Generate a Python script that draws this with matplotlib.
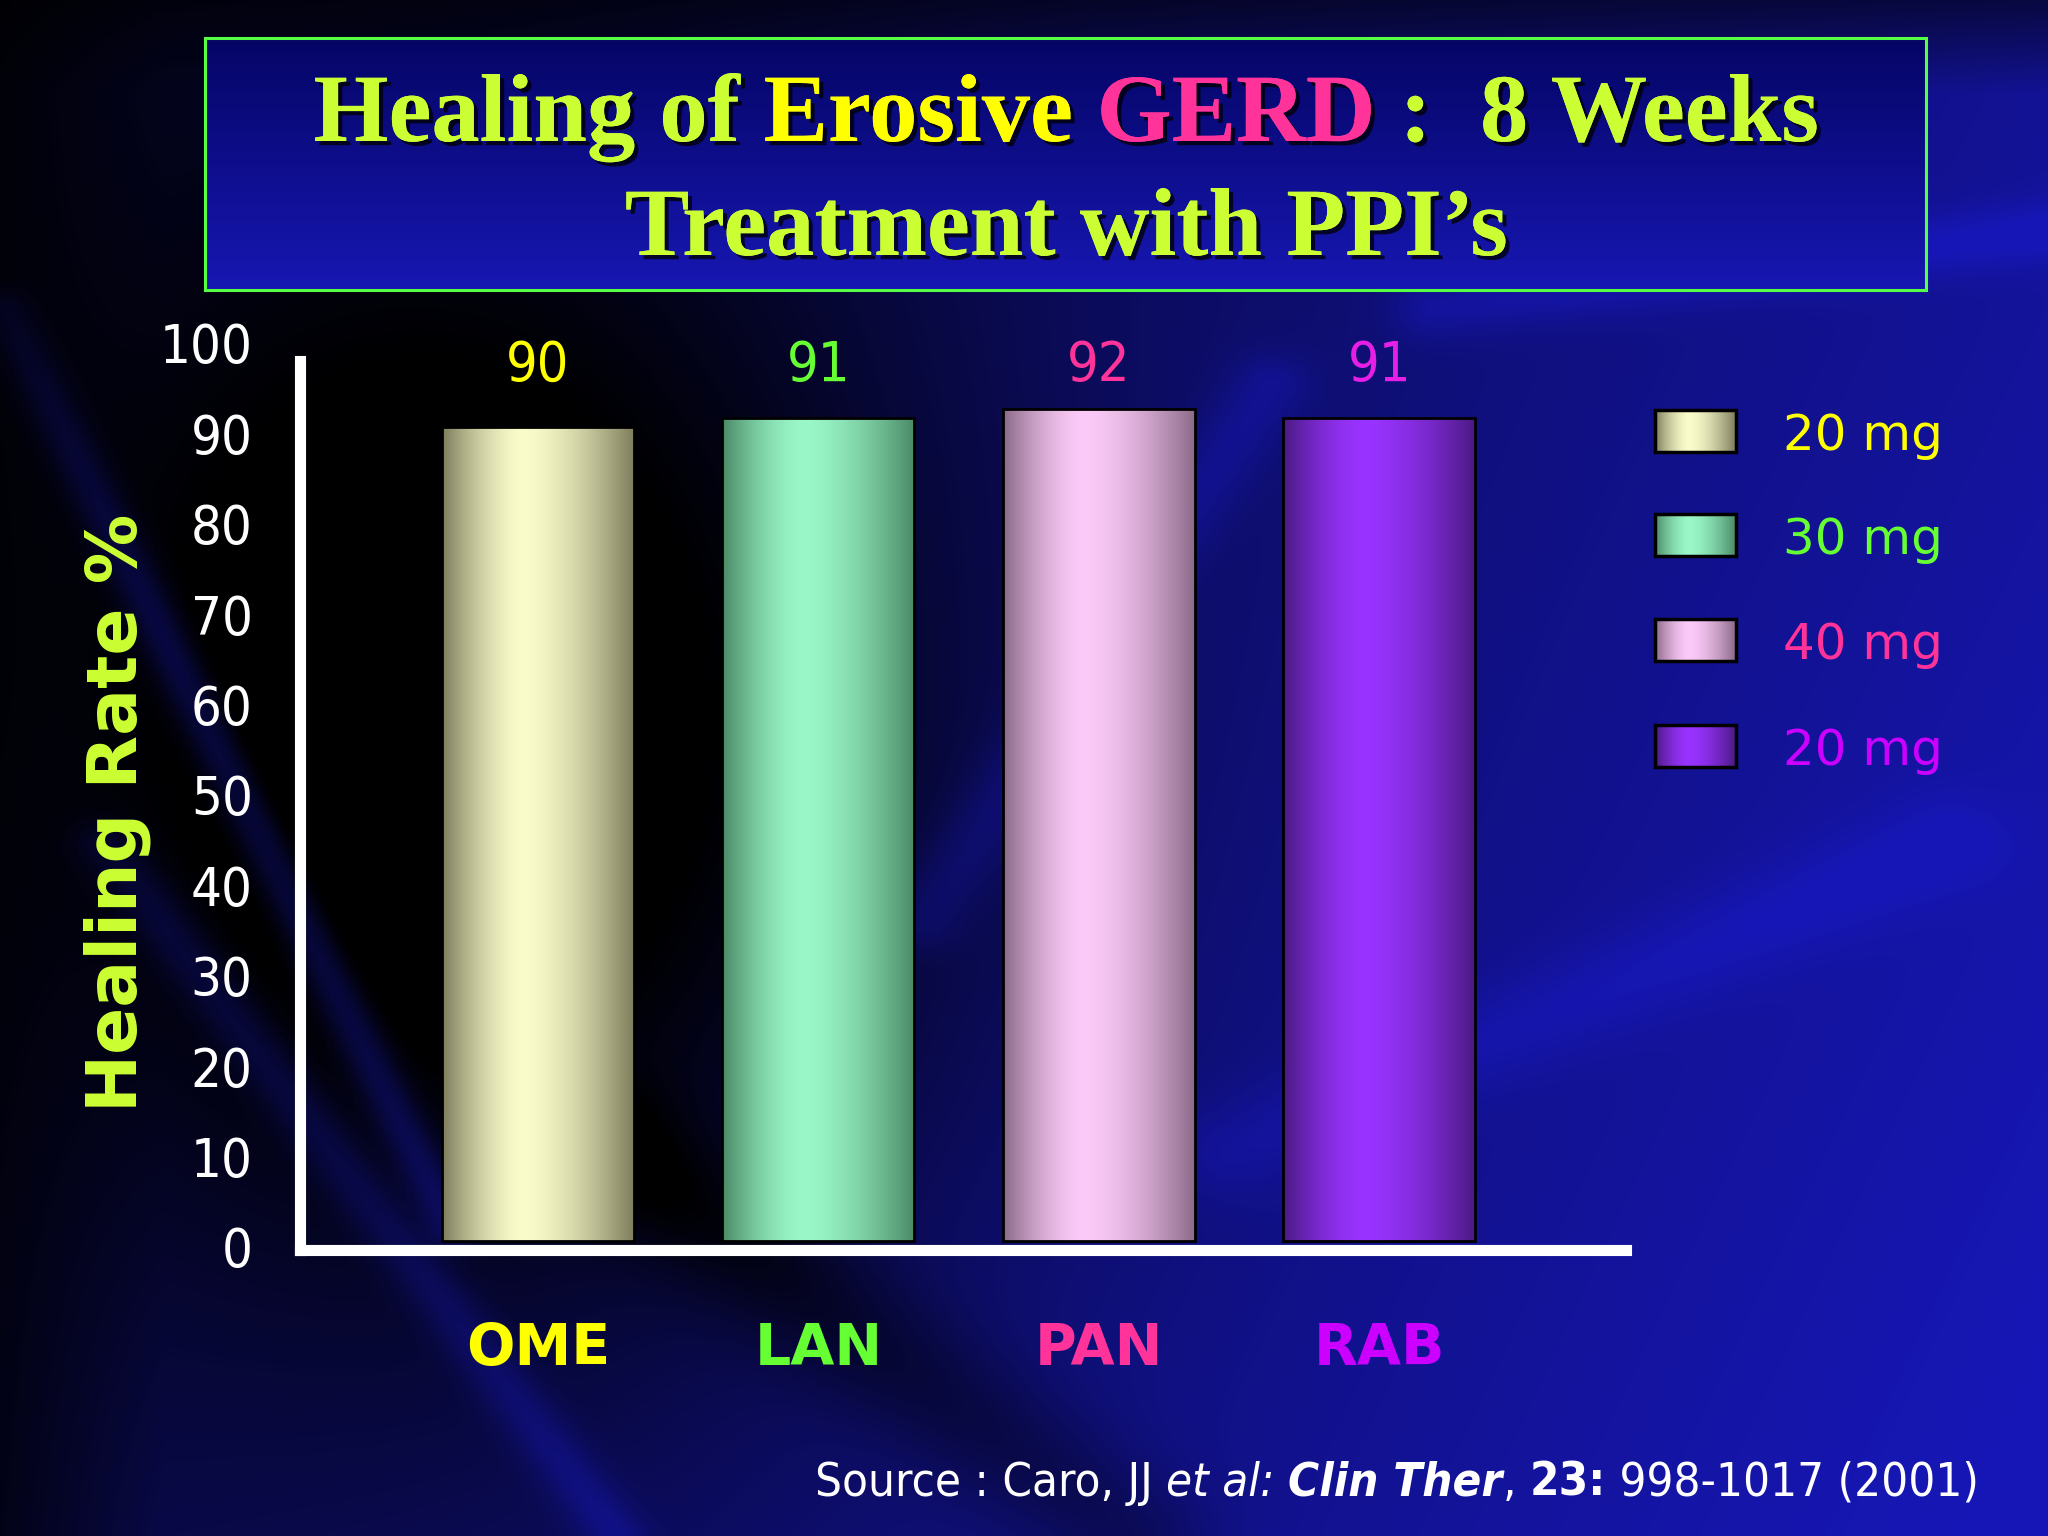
import numpy as np
import matplotlib
matplotlib.use('Agg')
import matplotlib.pyplot as plt
from matplotlib.patches import Rectangle
from matplotlib import patheffects as pe
from matplotlib.transforms import ScaledTranslation
from matplotlib.colors import to_rgb

# data
drugs = ['OME', 'LAN', 'PAN', 'RAB']
doses = ['20 mg', '30 mg', '40 mg', '20 mg']
healing = [90, 91, 92, 91]
yticks = list(range(0, 101, 10))

drug_colors = ['#ffff00', '#66ff33', '#ff3399', '#cc00ff']
value_colors = ['#ffff00', '#66ff33', '#ff3399', '#e61ee6']
bar_edge = ['#7d7c5c', '#4a8a66', '#8a6a88', '#4a1a82']
bar_light = ['#fafcca', '#9af7c8', '#fccaf8', '#9933ff']

COND = dict(family='DejaVu Sans', stretch='condensed')
W, H = 2048, 1536

fig = plt.figure(figsize=(W / 100, H / 100), dpi=100)

# background axes in pixel units
bg = fig.add_axes([0, 0, 1, 1], zorder=0)
bg.set_xlim(0, W)
bg.set_ylim(H, 0)
bg.axis('off')

yy, xx = np.mgrid[0:1:384j, 0:1:512j]
b = 0.18 + 0.62 * xx + 0.22 * yy
b -= 0.6 * np.exp(-(((xx - 0.25) / 0.22) ** 2 + ((yy - 0.5) / 0.38) ** 2))


def streak(x0, y0, x1, y1, w, a):
    dx, dy = x1 - x0, y1 - y0
    t = np.clip(((xx - x0) * dx + (yy - y0) * dy) / (dx * dx + dy * dy), 0, 1)
    d = np.hypot(xx - x0 - t * dx, yy - y0 - t * dy)
    return a * np.exp(-(d / w) ** 2)


b += streak(0.0, 0.2, 0.22, 0.8, 0.012, 0.35)
b += streak(0.05, 0.55, 0.3, 1.0, 0.015, 0.25)
b += streak(0.45, 0.6, 0.62, 0.25, 0.02, 0.2)
b += streak(0.6, 0.75, 0.95, 0.55, 0.03, 0.15)
b += streak(0.7, 0.2, 1.0, 0.15, 0.02, 0.2)
b -= streak(0.3, 0.75, 0.55, 1.0, 0.04, 0.25)
b *= 0.45 + 0.55 * np.clip(yy / 0.06, 0, 1)
b *= 0.35 + 0.65 * np.clip(xx / 0.08, 0, 1)
b = np.clip(b, 0, 1)
bg_img = np.dstack([0.09 * b, 0.09 * b, 0.72 * b])
bg.imshow(bg_img, extent=(0, W, H, 0), aspect='auto', interpolation='bicubic', zorder=0)

# title box
tb = np.linspace(0, 1, 100)[:, None]
box_img = np.dstack([0.02 + 0.07 * tb, 0.02 + 0.07 * tb, 0.40 + 0.30 * tb]) * np.ones((1, 10, 1))
bg.imshow(box_img, extent=(205, 1926, 290, 38), aspect='auto', interpolation='bicubic', zorder=1)
bg.add_patch(Rectangle((205, 38), 1721, 252, facecolor='none', edgecolor='#55ff44', linewidth=2.2, zorder=2))

renderer = fig.canvas.get_renderer()


def text_width(s, **kw):
    t = bg.text(0, 0, s + '|', **kw)
    w = t.get_window_extent(renderer).width
    t.remove()
    t = bg.text(0, 0, '|', **kw)
    w -= t.get_window_extent(renderer).width
    t.remove()
    return w


def draw_runs(runs, x, y, ha, base):
    widths = [text_width(s, **{**base, **kw}) for s, kw in runs]
    total = sum(widths)
    x0 = x - total / 2 if ha == 'center' else (x - total if ha == 'right' else x)
    for (s, kw), w in zip(runs, widths):
        bg.text(x0, y, s, ha='left', va='baseline', zorder=3, **{**base, **kw})
        x0 += w


shadow = [pe.withSimplePatchShadow(offset=(3, -3), shadow_rgbFace='black', alpha=0.75), pe.Normal()]
tbase = dict(family='Liberation Serif', fontweight='bold', fontsize=69.5, path_effects=shadow)
draw_runs([('Healing of ', dict(color='#ccff33')),
           ('Erosive ', dict(color='#ffff00')),
           ('GERD', dict(color='#ff3399')),
           (' :  8 Weeks', dict(color='#ccff33'))], 1066, 141, 'center', tbase)
draw_runs([('Treatment with PPI\u2019s', dict(color='#ccff33'))], 1066, 255, 'center', tbase)

# source line
sbase = dict(color='white', fontsize=34, **COND)
draw_runs([('Source : Caro, JJ ', {}),
           ('et al:', dict(style='italic')),
           (' ', {}),
           ('Clin Ther', dict(style='italic', fontweight='bold')),
           (', ', {}),
           ('23:', dict(fontweight='bold')),
           (' 998-1017 (2001)', {})], 1979, 1496, 'right', sbase)


def gradient(edge, light, n=200):
    u = np.linspace(0, 1, n)
    p = np.clip(1 - np.abs((u - 0.42) / np.where(u < 0.42, 0.42, 0.58)) ** 1.6, 0, 1)
    e, l = np.array(to_rgb(edge)), np.array(to_rgb(light))
    row = e[None, :] + (l - e)[None, :] * p[:, None]
    return row[None, :, :] * np.ones((4, 1, 1))


# legend
leg_y = [431, 535, 640, 746]
for y, dose, c, e, l in zip(leg_y, doses, drug_colors, bar_edge, bar_light):
    bg.imshow(gradient(e, l), extent=(1655, 1736, y + 21, y - 21), aspect='auto', zorder=3)
    bg.add_patch(Rectangle((1655, y - 21), 81, 42, facecolor='none', edgecolor='black', linewidth=2.5, zorder=4))
    bg.text(1783, y, dose, color=c, fontsize=36, family='DejaVu Sans', va='center_baseline', ha='left', zorder=4)
bg.set_xlim(0, W)
bg.set_ylim(H, 0)

# main chart
ax = fig.add_axes([300 / W, 1 - 1250 / H, (1626 - 300) / W, (1250 - 337) / H], zorder=1)
ax.set_facecolor('none')
x = np.arange(len(drugs))
bars = ax.bar(x, healing, width=0.685, facecolor='none', edgecolor='black', linewidth=2, zorder=3)
for bar, e, l in zip(bars, bar_edge, bar_light):
    im = ax.imshow(gradient(e, l), extent=(bar.get_x(), bar.get_x() + bar.get_width(), 0, bar.get_height()),
                   aspect='auto', zorder=2, interpolation='bilinear')
    im.set_clip_path(bar)
ax.set_xlim(-0.849, 3.88)
ax.set_ylim(-1, 100)

for xi, v, c in zip(x, healing, value_colors):
    ax.text(xi, 97.5, str(v), ha='center', va='center_baseline', color=c, fontsize=40, **COND)

for s in ['top', 'right']:
    ax.spines[s].set_visible(False)
for s in ['left', 'bottom']:
    ax.spines[s].set_color('white')
    ax.spines[s].set_linewidth(8)
ax.spines['left'].set_bounds(-1, 97.3)

ax.set_yticks(yticks)
ax.set_yticklabels([str(t) for t in yticks], color='white', fontsize=39, **COND)
ax.tick_params(axis='y', length=0, pad=34)
for lab in ax.get_yticklabels():
    lab.set_transform(lab.get_transform() + ScaledTranslation(0, -0.06, fig.dpi_scale_trans))

ax.set_xticks(x)
ax.set_xticklabels(drugs, fontsize=41, fontweight='bold', family='DejaVu Sans')
for lab, c in zip(ax.get_xticklabels(), drug_colors):
    lab.set_color(c)
ax.tick_params(axis='x', length=0, pad=52)

ax.set_ylabel('Healing Rate %', fontsize=50, fontweight='bold', color='#ccff33', family='DejaVu Sans')
ax.yaxis.label.set_va('center')
ax.yaxis.set_label_coords(-0.138, 0.479)

fig.savefig('out.png', dpi=100)
